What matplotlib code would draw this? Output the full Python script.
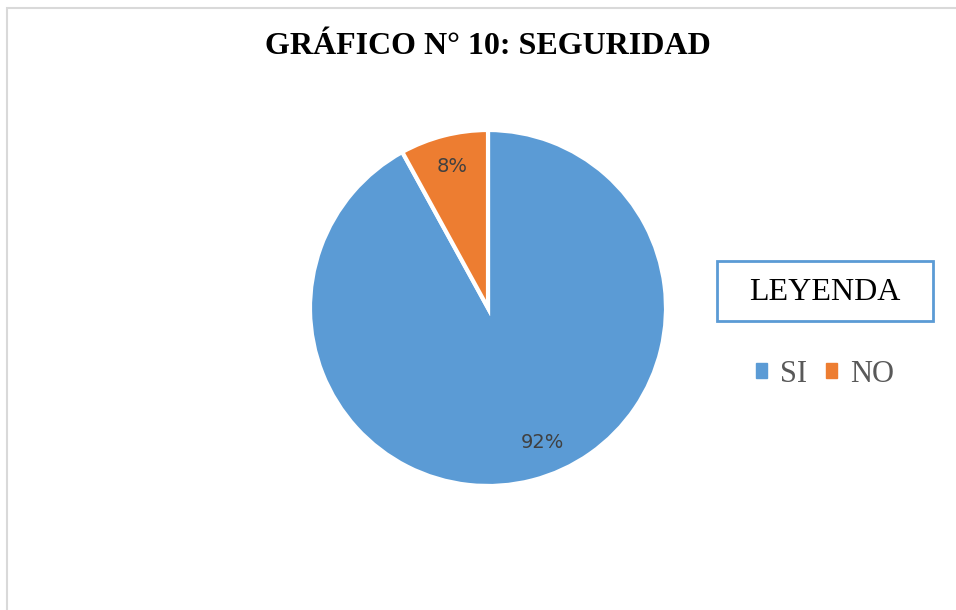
import matplotlib.pyplot as plt
from matplotlib.patches import Rectangle

labels = ["SI", "NO"]
values = [92, 8]
colors = ["#5B9BD5", "#ED7D31"]
title = "GRÁFICO N° 10: SEGURIDAD"

W, H = 956, 610
fig = plt.figure(figsize=(W / 100, H / 100), dpi=100)

# light gray chart-area border (runs off the right and bottom edges)
fig.patches.append(Rectangle((7 / W, -0.1), 1.2, 1 - 8 / H + 0.1, transform=fig.transFigure,
                             fill=False, edgecolor="#D9D9D9", linewidth=1.5))

# pie: center ~ (488, 308), radius ~178 px
cx, cy, r = 488, 308, 178
ax = fig.add_axes([(cx - r) / W, 1 - (cy + r) / H, 2 * r / W, 2 * r / H])
wedges, texts, autotexts = ax.pie(values, colors=colors, startangle=90, counterclock=False,
                                  autopct="%d%%", pctdistance=0.82,
                                  wedgeprops=dict(edgecolor="white", linewidth=3),
                                  textprops=dict(color="#404040", fontsize=14, family="DejaVu Sans"))
# Excel puts the big slice label a bit further right
x0, y0 = autotexts[0].get_position()
autotexts[0].set_position((x0 + 0.1, y0 + 0.04))
ax.set_xlim(-1, 1)
ax.set_ylim(-1, 1)
ax.set_aspect("equal")

fig.text(cx / W, 1 - 47 / H, title, ha="center", va="center", fontsize=23,
         fontweight="bold", family="Liberation Serif")

# legend title box
fig.text(825 / W, 1 - 292 / H, "LEYENDA", ha="center", va="center", fontsize=23,
         family="Liberation Serif", color="black")
fig.patches.append(Rectangle((717 / W, 1 - 321 / H), 216 / W, 60 / H, transform=fig.transFigure,
                             fill=False, edgecolor="#5B9BD5", linewidth=2))

handles = [plt.Rectangle((0, 0), 1, 1, color=c) for c in colors]
fig.legend(handles, labels, loc="center", bbox_to_anchor=(825 / W, 1 - 374 / H), ncol=2,
           frameon=False, handlelength=0.36, handleheight=0.36, handletextpad=0.45, columnspacing=0.6,
           borderpad=0, prop=dict(family="Liberation Serif", size=22), labelcolor="#595959")

fig.savefig("out.png", dpi=100)
